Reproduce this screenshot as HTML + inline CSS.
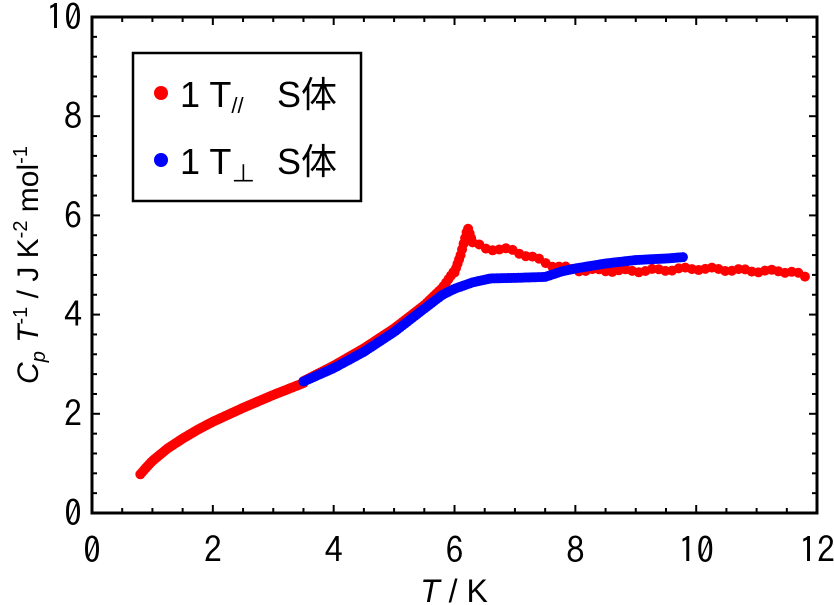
<!DOCTYPE html><html><head><meta charset="utf-8"><style>body{margin:0;background:#fff}svg{display:block}text{font-family:"Liberation Sans","Noto Sans CJK JP",sans-serif}.g text{font-family:"IPAGothic","Liberation Sans",sans-serif}</style></head><body>
<svg id="s" width="834" height="605" xmlns="http://www.w3.org/2000/svg">
<g id="pts"></g>
<rect x="92" y="17" width="725" height="496" fill="none" stroke="#000" stroke-width="3"/>
<g id="ticks" stroke="#000" stroke-width="2"></g>
<g font-size="36" text-anchor="middle" id="xl" class="g"></g>
<g font-size="36" text-anchor="end" id="yl" class="g"></g>
<text x="454" y="602" font-size="32" text-anchor="middle"><tspan font-style="italic">T</tspan> / K</text>
<text transform="translate(38,265) rotate(-90)" font-size="30" text-anchor="middle"><tspan font-style="italic">C</tspan><tspan font-style="italic" font-size="20" dy="7">p</tspan><tspan dy="-7"> </tspan><tspan font-style="italic">T</tspan><tspan font-size="20" dy="-11">-1</tspan><tspan dy="11"> / J K</tspan><tspan font-size="20" dy="-11">-2</tspan><tspan dy="11"> mol</tspan><tspan font-size="20" dy="-11">-1</tspan></text>
<rect x="133" y="53" width="228" height="148" fill="#fff" stroke="#000" stroke-width="2.5"/>
<circle cx="161" cy="93" r="7" fill="#f00"/>
<text x="180" y="107" font-size="36">1 T<tspan font-size="22" dy="6">//</tspan></text>
<text x="277" y="107" font-size="36">S体</text>
<circle cx="161" cy="160" r="7" fill="#00f"/>
<text x="180" y="174" font-size="36">1 T<tspan font-size="24" dy="8">⊥</tspan></text>
<text x="277" y="174" font-size="36">S体</text>
</svg>
<script>
var X=t=>92+t*60.42,Y=v=>513-v*49.6,NS="http://www.w3.org/2000/svg";
function el(n,a,p){var e=document.createElementNS(NS,n);for(var k in a)e.setAttribute(k,a[k]);document.getElementById(p).appendChild(e);return e}
for(var i=0;i<=24;i++){var x=X(i*0.5),L=i%4==0?8:5;el('line',{x1:x,x2:x,y1:513,y2:513-L},'ticks');el('line',{x1:x,x2:x,y1:17,y2:17+L},'ticks');if(i%4==0)el('text',{x:x,y:563},'xl').textContent=i/2;}
for(var i=0;i<=25;i++){var y=Y(i*0.4),L=i%5==0?8:5;el('line',{x1:92,x2:92+L,y1:y,y2:y},'ticks');el('line',{x1:817,x2:817-L,y1:y,y2:y},'ticks');if(i%5==0)el('text',{x:82,y:y+13},'yl').textContent=i*0.4;}
function interp(p,t){for(var i=0;i<p.length-1;i++)if(t<=p[i+1][0]){var a=p[i],b=p[i+1];return a[1]+(b[1]-a[1])*(t-a[0])/(b[0]-a[0])}return p[p.length-1][1]}
var red=[[0.8,0.78],[0.9,0.92],[1,1.05],[1.25,1.3],[1.5,1.5],[1.75,1.68],[2,1.84],[2.5,2.12],[3,2.38],[3.5,2.62],[4,2.93],[4.5,3.28],[5,3.68],[5.5,4.15],[5.8,4.5],[6.0,4.85],[6.1,5.2],[6.22,5.75],[6.3,5.45],[6.5,5.33],[6.8,5.32],[7.0,5.28],[7.3,5.15],[7.6,5.0],[8,4.9],[9,4.88],[10,4.93],[11,4.88],[11.6,4.87],[11.8,4.75]];
var blue=[[3.5,2.65],[4,2.92],[4.5,3.25],[5,3.65],[5.5,4.12],[5.8,4.4],[6,4.52],[6.3,4.65],[6.6,4.73],[7,4.74],[7.5,4.76],[7.8,4.88],[8,4.93],[8.5,5.03],[9,5.1],[9.5,5.13],[9.8,5.16]];
for(var t=0.8;t<=3.5;t+=0.03)el('circle',{cx:X(t),cy:Y(interp(red,t)),r:5,fill:'#f00'},'pts');
for(var t=3.5;t<=6.0;t+=0.04)el('circle',{cx:X(t),cy:Y(interp(red,t)+0.04),r:5,fill:'#f00'},'pts');
for(var t=6.0;t<=6.3;t+=0.025)el('circle',{cx:X(t),cy:Y(interp(red,t)),r:5,fill:'#f00'},'pts');
for(var t=6.3;t<=11.8;t+=0.11)el('circle',{cx:X(t),cy:Y(interp(red,t)+(Math.sin(t*13)*0.03)),r:5,fill:'#f00'},'pts');
for(var t=3.5;t<=9.8;t+=0.04)el('circle',{cx:X(t),cy:Y(interp(blue,t)),r:5,fill:'#00f'},'pts');
</script>
</body></html>
